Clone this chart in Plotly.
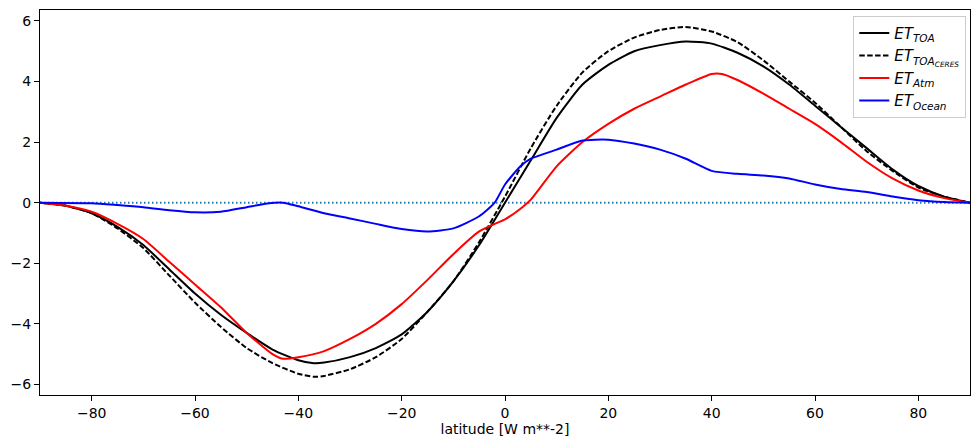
import plotly.graph_objects as go

lat_toa = [-90, -85, -80, -75, -70, -65, -60, -55, -50, -45, -40, -37, -35, -30, -25, -20, -15, -10, -5, 0,
           5, 10, 15, 20, 25, 30, 35, 40, 45, 50, 55, 60, 65, 70, 75, 80, 85, 90]
et_toa = [0, -0.1, -0.35, -0.8, -1.4, -2.2, -3.0, -3.7, -4.3, -4.85, -5.2, -5.3, -5.28, -5.1, -4.8, -4.35, -3.6, -2.6, -1.4, 0.0,
          1.4, 2.8, 3.9, 4.55, 5.0, 5.2, 5.32, 5.25, 4.95, 4.5, 3.9, 3.2, 2.5, 1.8, 1.1, 0.55, 0.2, 0]

lat_ceres = [-90, -85, -80, -75, -70, -65, -60, -55, -50, -45, -40, -37, -35, -30, -25, -20, -15, -10, -5, 0,
             5, 10, 15, 20, 25, 30, 35, 40, 45, 50, 55, 60, 65, 70, 75, 80, 85, 90]
et_ceres = [0, -0.1, -0.35, -0.85, -1.5, -2.4, -3.3, -4.1, -4.8, -5.3, -5.65, -5.75, -5.72, -5.5, -5.1, -4.5, -3.6, -2.6, -1.3, 0.2,
            1.8, 3.2, 4.3, 5.0, 5.45, 5.7, 5.8, 5.65, 5.3, 4.7, 4.0, 3.3, 2.5, 1.7, 1.05, 0.5, 0.2, 0]

lat_atm = [-90, -85, -80, -75, -70, -65, -60, -55, -50, -45, -43, -40, -35, -30, -25, -20, -15, -10, -5, -2, 0, 3, 5,
           10, 15, 20, 25, 30, 35, 40, 42, 45, 50, 55, 60, 65, 70, 75, 80, 85, 90]
et_atm = [0, -0.1, -0.3, -0.7, -1.2, -1.95, -2.7, -3.45, -4.3, -5.0, -5.15, -5.1, -4.9, -4.5, -4.0, -3.35, -2.55, -1.7, -0.95, -0.7, -0.55, -0.2, 0.1,
          1.2, 2.0, 2.6, 3.1, 3.5, 3.9, 4.25, 4.25, 4.05, 3.6, 3.1, 2.6, 2.0, 1.35, 0.8, 0.4, 0.15, 0]

lat_ocean = [-90, -80, -75, -70, -65, -60, -55, -50, -46, -43, -40, -35, -30, -25, -20, -15, -10, -5, -2, 0, 3, 5,
             10, 15, 20, 25, 30, 35, 40, 45, 50, 55, 60, 65, 70, 75, 80, 85, 90]
et_ocean = [0, -0.02, -0.08, -0.15, -0.25, -0.32, -0.3, -0.15, -0.03, 0, -0.12, -0.35, -0.52, -0.7, -0.87, -0.95, -0.85, -0.45, 0.0, 0.6, 1.2, 1.45,
            1.75, 2.05, 2.08, 1.95, 1.75, 1.45, 1.05, 0.95, 0.9, 0.8, 0.6, 0.45, 0.35, 0.2, 0.08, 0.02, 0]

x_ticks = [-80, -60, -40, -20, 0, 20, 40, 60, 80]
x_labels = ["\u221280", "\u221260", "\u221240", "\u221220", "0", "20", "40", "60", "80"]
y_ticks = [-6, -4, -2, 0, 2, 4, 6]
y_labels = ["\u22126", "\u22124", "\u22122", "0", "2", "4", "6"]

fig = go.Figure()
fig.add_hline(y=0, line=dict(color="#1f77b4", width=2, dash="1.5px,2.5px"), layer="below")

fig.add_trace(go.Scatter(x=lat_toa, y=et_toa, mode="lines", name="<i>ET<sub>TOA</sub></i>",
                         line=dict(color="black", width=2, shape="spline", smoothing=0.6)))
fig.add_trace(go.Scatter(x=lat_ceres, y=et_ceres, mode="lines", name="<i>ET<sub>TOA<sub>CERES</sub></sub></i>",
                         line=dict(color="black", width=2, dash="5.5px,2.4px", shape="spline", smoothing=0.6)))
fig.add_trace(go.Scatter(x=lat_atm, y=et_atm, mode="lines", name="<i>ET<sub>Atm</sub></i>",
                         line=dict(color="red", width=2, shape="spline", smoothing=0.6)))
fig.add_trace(go.Scatter(x=lat_ocean, y=et_ocean, mode="lines", name="<i>ET<sub>Ocean</sub></i>",
                         line=dict(color="blue", width=2, shape="spline", smoothing=0.6)))

axis_common = dict(showline=True, linecolor="black", linewidth=1, mirror=True, ticks="outside",
                   ticklen=5, tickcolor="black", showgrid=False, zeroline=False,
                   tickfont=dict(size=14, color="black"))

fig.update_layout(
    width=972, height=440,
    margin=dict(l=32, r=10, t=2, b=53),
    paper_bgcolor="white", plot_bgcolor="white",
    font=dict(family="DejaVu Sans", size=14, color="black"),
    xaxis=dict(range=[-90, 90], tickvals=x_ticks, ticktext=x_labels,
               title=dict(text="latitude [W m**-2]", font=dict(size=14), standoff=4), **axis_common),
    yaxis=dict(range=[-6.35, 6.36], tickvals=y_ticks, ticktext=y_labels, **axis_common),
    legend=dict(x=0.996, y=0.985, xanchor="right", yanchor="top", bgcolor="rgba(255,255,255,0.8)",
                bordercolor="#cccccc", borderwidth=1, font=dict(size=15), tracegroupgap=0,
                itemwidth=30),
    showlegend=True,
)

fig.write_html("out.html")
